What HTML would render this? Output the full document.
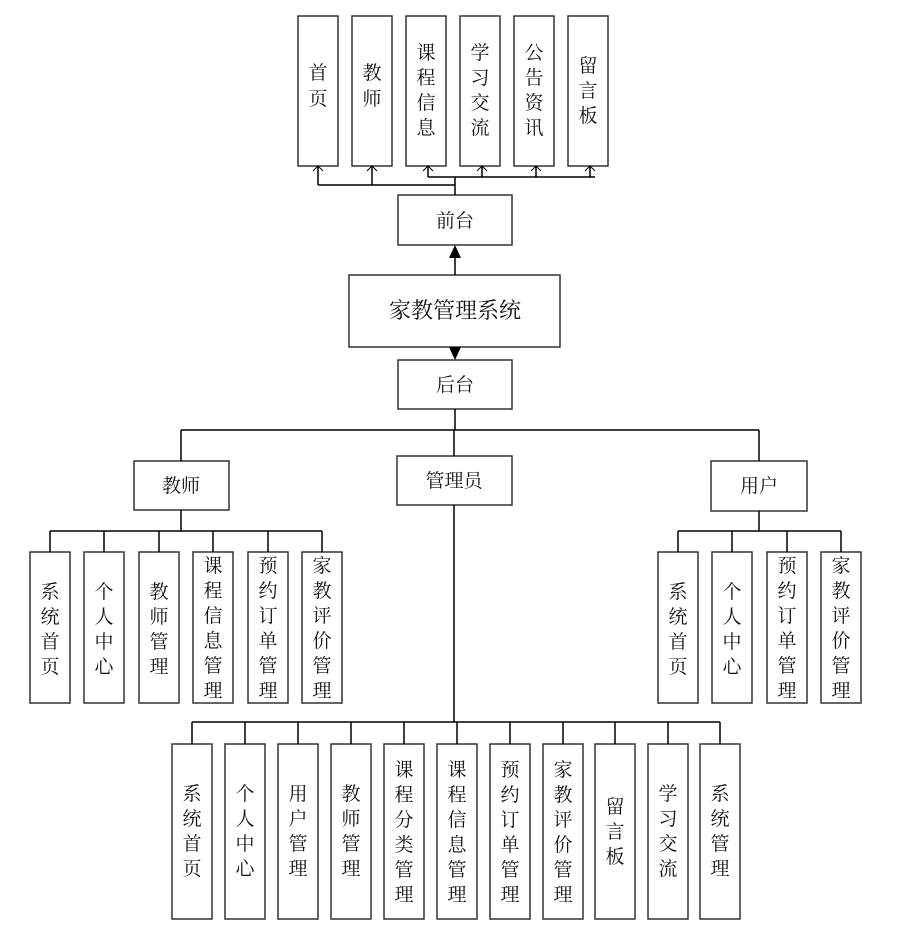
<!DOCTYPE html>
<html><head><meta charset="utf-8"><style>
html,body{margin:0;padding:0;background:#fff;}
svg text{font-family:"Liberation Serif","Noto Serif CJK SC",serif;font-size:19px;fill:#111;}
</style></head><body>
<svg width="902" height="934" viewBox="0 0 902 934" xmlns="http://www.w3.org/2000/svg">
<g fill="#fff" stroke="#333" stroke-width="1.5">
<rect x="298" y="16" width="40" height="150"/><rect x="352" y="16" width="40" height="150"/>
<rect x="406" y="16" width="40" height="150"/><rect x="460" y="16" width="40" height="150"/>
<rect x="514" y="16" width="40" height="150"/><rect x="568" y="16" width="40" height="150"/>
<rect x="398" y="195" width="114" height="50"/>
<rect x="349" y="275" width="211" height="72"/>
<rect x="398" y="360" width="114" height="49"/>
<rect x="134" y="461" width="95" height="49"/>
<rect x="397" y="456" width="115" height="49"/>
<rect x="711" y="461" width="96" height="50"/>
<rect x="30" y="552" width="40" height="151"/><rect x="84" y="552" width="40" height="151"/>
<rect x="139" y="552" width="40" height="151"/><rect x="193" y="552" width="40" height="151"/>
<rect x="248" y="552" width="40" height="151"/><rect x="302" y="552" width="40" height="151"/>
<rect x="658" y="552" width="40" height="151"/><rect x="712" y="552" width="40" height="151"/>
<rect x="767" y="552" width="40" height="151"/><rect x="821" y="552" width="40" height="151"/>
<rect x="172" y="744" width="40" height="175"/><rect x="225" y="744" width="40" height="175"/>
<rect x="278" y="744" width="40" height="175"/><rect x="331" y="744" width="40" height="175"/>
<rect x="384" y="744" width="40" height="175"/><rect x="437" y="744" width="40" height="175"/>
<rect x="490" y="744" width="40" height="175"/><rect x="543" y="744" width="40" height="175"/>
<rect x="595" y="744" width="40" height="175"/><rect x="648" y="744" width="40" height="175"/>
<rect x="700" y="744" width="40" height="175"/>
</g>
<g fill="none" stroke="#000" stroke-width="1.5">
<path d="M455,195 V177 M318,185 H455 M318,185 V166 M372,185 V166 M428,177 H595 M428,177 V166 M482,177 V166 M536,177 V166 M590,177 V166"/>
<path d="M313,171 L318,166 L323,171 M367,171 L372,166 L377,171 M423,171 L428,166 L433,171 M477,171 L482,166 L487,171 M531,171 L536,166 L541,171 M585,171 L590,166 L595,171" stroke-width="1"/>
<path d="M455,275 V255"/>
<path d="M455,409 V430 M181,430 H759 M181,430 V461 M454,430 V456 M759,430 V461"/>
<path d="M181,510 V531 M50,531 H322 M50,531 V552 M104,531 V552 M159,531 V552 M213,531 V552 M268,531 V552 M322,531 V552"/>
<path d="M759,511 V531 M678,531 H841 M678,531 V552 M732,531 V552 M787,531 V552 M841,531 V552"/>
<path d="M454,505 V722 M192,722 H720 M192,722 V744 M245,722 V744 M298,722 V744 M351,722 V744 M404,722 V744 M457,722 V744 M510,722 V744 M563,722 V744 M615,722 V744 M668,722 V744 M720,722 V744"/>
</g>
<path d="M449,258 L461,258 L455,245 Z" fill="#000"/>
<path d="M449,347 L461,347 L455,360 Z" fill="#000"/>
<g text-anchor="middle">
<text x="318" y="79">首</text><text x="318" y="105">页</text>
<text x="372" y="79">教</text><text x="372" y="105">师</text>
<text x="426" y="59">课</text><text x="426" y="84">程</text><text x="426" y="109">信</text><text x="426" y="134">息</text>
<text x="480" y="59">学</text><text x="480" y="84">习</text><text x="480" y="109">交</text><text x="480" y="134">流</text>
<text x="534" y="59">公</text><text x="534" y="84">告</text><text x="534" y="109">资</text><text x="534" y="134">讯</text>
<text x="588" y="72">留</text><text x="588" y="97">言</text><text x="588" y="122">板</text>
<text x="455" y="227">前台</text>
<text x="455" y="318" style="font-size:22px">家教管理系统</text>
<text x="455" y="391">后台</text>
<text x="181" y="492">教师</text>
<text x="454" y="487">管理员</text>
<text x="759" y="492">用户</text>
<text x="50" y="598">系</text><text x="50" y="623">统</text><text x="50" y="648">首</text><text x="50" y="673">页</text>
<text x="104" y="598">个</text><text x="104" y="623">人</text><text x="104" y="648">中</text><text x="104" y="673">心</text>
<text x="159" y="598">教</text><text x="159" y="623">师</text><text x="159" y="648">管</text><text x="159" y="673">理</text>
<text x="213" y="572">课</text><text x="213" y="597">程</text><text x="213" y="622">信</text><text x="213" y="647">息</text><text x="213" y="672">管</text><text x="213" y="697">理</text>
<text x="268" y="572">预</text><text x="268" y="597">约</text><text x="268" y="622">订</text><text x="268" y="647">单</text><text x="268" y="672">管</text><text x="268" y="697">理</text>
<text x="322" y="572">家</text><text x="322" y="597">教</text><text x="322" y="622">评</text><text x="322" y="647">价</text><text x="322" y="672">管</text><text x="322" y="697">理</text>
<text x="678" y="598">系</text><text x="678" y="623">统</text><text x="678" y="648">首</text><text x="678" y="673">页</text>
<text x="732" y="598">个</text><text x="732" y="623">人</text><text x="732" y="648">中</text><text x="732" y="673">心</text>
<text x="787" y="572">预</text><text x="787" y="597">约</text><text x="787" y="622">订</text><text x="787" y="647">单</text><text x="787" y="672">管</text><text x="787" y="697">理</text>
<text x="841" y="572">家</text><text x="841" y="597">教</text><text x="841" y="622">评</text><text x="841" y="647">价</text><text x="841" y="672">管</text><text x="841" y="697">理</text>
<text x="192" y="800">系</text><text x="192" y="825">统</text><text x="192" y="850">首</text><text x="192" y="875">页</text>
<text x="245" y="800">个</text><text x="245" y="825">人</text><text x="245" y="850">中</text><text x="245" y="875">心</text>
<text x="298" y="800">用</text><text x="298" y="825">户</text><text x="298" y="850">管</text><text x="298" y="875">理</text>
<text x="351" y="800">教</text><text x="351" y="825">师</text><text x="351" y="850">管</text><text x="351" y="875">理</text>
<text x="404" y="776">课</text><text x="404" y="801">程</text><text x="404" y="826">分</text><text x="404" y="851">类</text><text x="404" y="876">管</text><text x="404" y="901">理</text>
<text x="457" y="776">课</text><text x="457" y="801">程</text><text x="457" y="826">信</text><text x="457" y="851">息</text><text x="457" y="876">管</text><text x="457" y="901">理</text>
<text x="510" y="776">预</text><text x="510" y="801">约</text><text x="510" y="826">订</text><text x="510" y="851">单</text><text x="510" y="876">管</text><text x="510" y="901">理</text>
<text x="563" y="776">家</text><text x="563" y="801">教</text><text x="563" y="826">评</text><text x="563" y="851">价</text><text x="563" y="876">管</text><text x="563" y="901">理</text>
<text x="615" y="813">留</text><text x="615" y="838">言</text><text x="615" y="863">板</text>
<text x="668" y="800">学</text><text x="668" y="825">习</text><text x="668" y="850">交</text><text x="668" y="875">流</text>
<text x="720" y="800">系</text><text x="720" y="825">统</text><text x="720" y="850">管</text><text x="720" y="875">理</text>
</g>
</svg>
</body></html>
